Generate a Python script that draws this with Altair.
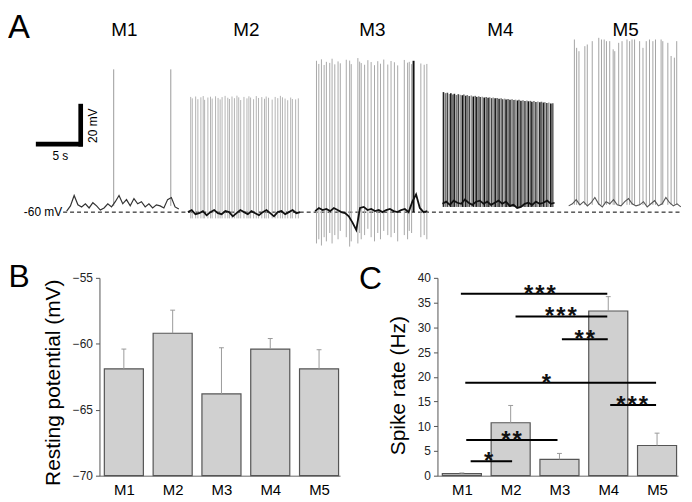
import altair as alt
import pandas as pd

FONT = "Liberation Sans"

# ---------------- Panel A : example traces ----------------
trace_names = ["M1", "M2", "M3", "M4", "M5"]
trace_start_s = [6.28, 19.26, 32.87, 46.49, 60.0]   # start of each 12 s sweep on a common time line
baseline_step_s = 0.4

baseline_mv = {
    "M1": [-59.5, -57, -52, -56.5, -57.5, -56, -58, -55.5, -57, -59, -58, -56, -57.5, -55, -52, -56,
           -54, -57, -53.5, -56, -55, -57.5, -56, -58, -56.5, -57, -58, -54, -53, -57.5, -58.5],
    "M2": [-60, -59, -61, -60.5, -59.5, -61.5, -60, -59, -60.5, -61, -59.5, -60, -62, -60.5, -59, -60,
           -61, -59.5, -60.5, -61.5, -60, -59, -60.5, -62, -60, -59.5, -61, -60, -59, -60.5, -60],
    "M3": [-59.5, -58, -59, -58.5, -59.5, -58, -59, -60, -60.5, -62, -65, -68.5, -58, -57.5, -59, -58.5,
           -59.5, -59, -60, -59, -58.5, -59.5, -60, -59, -58.5, -60, -55, -51.5, -58, -60, -59.5],
    "M4": [-56, -55, -56.5, -54.5, -55.5, -56, -54, -55.5, -56.5, -55, -54.5, -56, -55, -56.5, -55.5, -54.5,
           -56, -55, -57, -56.5, -58, -57.5, -56, -55.5, -56.5, -55, -56, -55.5, -54.5, -56, -55.5],
    "M5": [-57, -56, -54, -56.5, -55, -57, -55.5, -53, -56, -57.5, -55, -56, -54, -56.5, -57, -55,
           -53.5, -56, -57, -56.5, -55, -57.5, -56, -54.5, -57, -56, -53, -55.5, -57, -56, -57.5],
}

spike_times = {
    "M1": [5.03, 11.14],
    "M2": [0.29, 0.46, 0.82, 1.06, 1.38, 1.63, 1.78, 2.13, 2.41, 2.59,
           2.95, 3.22, 3.44, 3.65, 3.97, 4.26, 4.44, 4.71, 4.97, 5.24,
           5.43, 5.64, 5.99, 6.31, 6.52, 6.70, 7.02, 7.31, 7.55, 7.90,
           8.19, 8.37, 8.62, 9.01, 9.33, 9.61, 9.89, 10.11, 10.39, 10.67,
           10.99, 11.17, 11.52, 11.81],
    "M3": [0.14, 0.39, 0.67, 0.96, 1.20, 1.56, 1.81, 2.10, 2.45, 2.69,
           3.33, 3.69, 3.86, 4.57, 4.76, 4.93, 5.29, 5.64, 5.99, 6.35,
           6.70, 6.99, 7.34, 7.77, 8.12, 8.48, 8.83, 9.54, 9.89, 10.07,
           10.32, 10.53, 11.31, 11.67, 11.95],
    "M4": [0.11, 0.32, 0.53, 0.74, 0.90, 1.12, 1.28, 1.49, 1.70, 1.91,
           2.13, 2.29, 2.50, 2.66, 2.87, 3.09, 3.30, 3.51, 3.67, 3.88,
           4.04, 4.26, 4.47, 4.68, 4.89, 5.05, 5.27, 5.43, 5.64, 5.85,
           6.06, 6.28, 6.44, 6.65, 6.81, 7.02, 7.23, 7.45, 7.66, 7.82,
           8.03, 8.19, 8.40, 8.62, 8.83, 9.04, 9.20, 9.41, 9.57, 9.79,
           10.00, 10.21, 10.43, 10.59, 10.80, 10.96, 11.17, 11.38, 11.60, 11.81],
    "M5": [0.61, 0.85, 1.10, 1.73, 1.99, 2.52, 3.22, 3.51, 3.80, 4.04,
           4.39, 4.76, 4.93, 5.35, 5.71, 6.24, 6.52, 6.78, 7.05, 7.59,
           7.95, 8.30, 8.65, 9.01, 9.29, 9.89, 10.07, 10.61, 10.96, 11.31,
           11.56],
}

spike_peaks = {
    "M1": [8.4, 8.4],
    "M2": [-4.8, -5.5, -4.6, -5.9, -5.0, -4.4, -6.2, -5.1, -4.7, -5.6,
           -4.5, -5.3, -6.0, -4.9, -4.3, -5.2, -5.8, -4.6, -5.4, -4.2,
           -5.0, -6.3, -4.8, -5.5, -4.5, -5.1, -5.9, -4.4, -5.3, -4.9,
           -5.7, -4.6, -5.2, -6.1, -4.8, -5.4, -4.3, -5.0, -5.6, -6.4,
           -5.1, -5.8, -6.0, -5.5],
    "M3": [12.5, 11.0, 13.2, 10.5, 12.0, 11.5, 13.5, 10.8, 12.2, 11.3,
           13.0, 12.6, 10.9, 13.8, 12.1, 11.4, 10.6, 12.8, 11.9, 10.4,
           12.3, 11.1, 13.1, 10.7, 12.4, 11.8, 10.3, 12.9, 11.6, 12.0,
           10.9, 12.5, 11.2, 10.6, 11.0],
    "M4": [-2.5, -3.0, -2.8, -3.4, -3.1, -3.6, -3.3, -3.9, -3.5, -3.8,
           -4.0, -3.7, -4.2, -3.9, -4.4, -4.1, -4.6, -4.3, -4.8, -4.5,
           -4.9, -4.7, -5.1, -4.8, -5.2, -5.0, -5.4, -5.1, -5.5, -5.3,
           -5.7, -5.4, -5.9, -5.6, -6.0, -5.8, -6.2, -5.9, -6.3, -6.1,
           -6.5, -6.2, -6.6, -6.4, -6.8, -6.5, -6.9, -6.7, -7.1, -6.8,
           -7.2, -7.0, -7.4, -7.1, -7.5, -7.3, -7.7, -7.5, -7.9, -7.8],
    "M5": [22.7, 18.7, 17.1, 19.5, 20.3, 21.9, 23.5, 22.7, 22.7, 21.9,
           21.9, 18.0, 17.1, 21.1, 21.9, 22.7, 21.9, 22.7, 22.7, 21.9,
           18.7, 21.9, 22.7, 21.9, 22.7, 22.7, 21.9, 21.1, 14.8, 14.0,
           21.9],
}

spike_trough_mv = {"M1": -57.0, "M2": -63.0, "M4": -57.5, "M5": -56.5}
m3_troughs = [-75, -73, -76, -72, -74, -70, -75, -71, -73, -69,
              -72, -76.5, -74, -75, -70, -73, -71, -68, -72, -74,
              -70, -73, -69, -71, -72, -70, -74, -71, -73, -69,
              -70, -60, -72, -71, -73]

# ---------------- Panel B / C : group statistics ----------------
groups = ["M1", "M2", "M3", "M4", "M5"]
resting_mean = [-61.9, -59.2, -63.8, -60.4, -61.9]
resting_sem = [1.5, 1.75, 3.5, 0.8, 1.45]
rate_mean = [0.4, 10.7, 3.3, 33.3, 6.1]
rate_sem = [0.15, 3.5, 1.2, 2.9, 2.5]

sig_from = [0.98, 2.1, 3.05, 1.07, 4.04, 1.09, 1.18]
sig_to = [3.98, 3.98, 3.99, 4.98, 4.98, 2.96, 2.03]
sig_level = [36.8, 32.2, 27.6, 18.8, 14.3, 7.2, 2.9]
HS = "\u200a"
sig_label = [HS.join("***"), HS.join("***"), HS.join("**"), "*", HS.join("***"), HS.join("**"), "*"]
sig_label_pos = [2.6, 3.03, 3.52, 2.73, 4.49, 2.02, 1.55]

# ======================= build tables =======================
spike_colors = {"M1": "#9a9a9a", "M2": "#b3b3b3", "M3": "#a8a8a8", "M5": "#a3a3a3"}
m4_cycle = ["#222222", "#7a7a7a", "#444444", "#9a9a9a", "#111111", "#666666"]
rows = []
for name, start in zip(trace_names, trace_start_s):
    for i, (t, pk) in enumerate(zip(spike_times[name], spike_peaks[name])):
        lo = m3_troughs[i] if name == "M3" else spike_trough_mv[name]
        if name == "M4":
            col, w = m4_cycle[i % len(m4_cycle)], 1.6
        elif name == "M3" and abs(t - 10.53) < 1e-6:
            col, w = "#111111", 2.0
        else:
            col, w = spike_colors[name], 1.0
        rows.append({"trace": name, "t": start + t, "lo": lo, "hi": pk, "col": col, "w": w})
spike_df = pd.DataFrame(rows)

base_color = {"M1": "#333333", "M2": "#111111", "M3": "#111111", "M4": "#111111", "M5": "#555555"}
base_width = {"M1": 1.2, "M2": 1.8, "M3": 1.8, "M4": 1.8, "M5": 1.1}
brow = []
for name, start in zip(trace_names, trace_start_s):
    for i, v in enumerate(baseline_mv[name]):
        brow.append({"trace": name, "t": start + i * baseline_step_s, "v": v,
                     "col": base_color[name], "w": base_width[name]})
base_df = pd.DataFrame(brow)

ax = alt.Scale(domain=[0, 72.34], nice=False, zero=False)
ay = alt.Scale(domain=[-79.1, 37.1], nice=False, zero=False)


def AX(field):
    return alt.X(field, scale=ax, axis=None)


def AY(field):
    return alt.Y(field, scale=ay, axis=None)


dash = alt.Chart(pd.DataFrame({"x0": [5.9], "x1": [72.1], "y": [-60.0]})).mark_rule(
    color="black", strokeWidth=1, strokeDash=[4, 3]
).encode(x=AX("x0:Q"), x2="x1:Q", y=AY("y:Q"))

spikes = alt.Chart(spike_df).mark_rule().encode(
    x=AX("t:Q"), y=AY("lo:Q"), y2="hi:Q",
    color=alt.Color("col:N", scale=None),
    strokeWidth=alt.StrokeWidth("w:Q", scale=None),
)

baseline = alt.Chart(base_df).mark_line(strokeJoin="miter").encode(
    x=AX("t:Q"), y=AY("v:Q"), detail="trace:N",
    color=alt.Color("col:N", scale=None),
    strokeWidth=alt.StrokeWidth("w:Q", scale=None),
)

scalebar = alt.Chart(pd.DataFrame({
    "x0": [2.98, 7.78], "x1": [8.0, 7.78], "y0": [-27.4, -28.6], "y1": [-27.4, -8.1]
})).mark_rule(color="black", strokeWidth=4.7).encode(
    x=AX("x0:Q"), x2="x1:Q", y=AY("y0:Q"), y2="y1:Q",
)

trace_label_t = [12.45, 25.5, 39.0, 52.7, 66.1]
labels = alt.Chart(pd.DataFrame({"t": trace_label_t, "y": [27.3] * 5, "s": trace_names})).mark_text(
    font=FONT, fontSize=19, color="black", baseline="middle"
).encode(x=AX("t:Q"), y=AY("y:Q"), text="s:N")

ann_60 = alt.Chart(pd.DataFrame({"t": [5.8], "y": [-60.0], "s": ["-60 mV"]})).mark_text(
    font=FONT, fontSize=12, align="right", baseline="middle", color="black"
).encode(x=AX("t:Q"), y=AY("y:Q"), text="s:N")
ann_5 = alt.Chart(pd.DataFrame({"t": [5.6], "y": [-32.9], "s": ["5 s"]})).mark_text(
    font=FONT, fontSize=12, align="center", baseline="middle", color="black"
).encode(x=AX("t:Q"), y=AY("y:Q"), text="s:N")
ann_20 = alt.Chart(pd.DataFrame({"t": [9.1], "y": [-18.6], "s": ["20 mV"]})).mark_text(
    font=FONT, fontSize=12, align="center", baseline="middle", angle=270, color="black"
).encode(x=AX("t:Q"), y=AY("y:Q"), text="s:N")

letter_a = alt.Chart(pd.DataFrame({"s": ["A"]})).mark_text(
    font=FONT, fontSize=33, align="left", baseline="top", color="black"
).encode(x=alt.value(0), y=alt.value(3), text="s:N")

panel_a = alt.layer(dash, spikes, baseline, scalebar, labels, ann_60, ann_5, ann_20, letter_a).properties(
    width=680, height=244
)

# ---------------- bar panels ----------------
xs = alt.Scale(domain=[0.5, 5.43], nice=False, zero=False)
xaxis = alt.Axis(values=[1, 2, 3, 4, 5], labelExpr="'M' + datum.value", ticks=False, grid=False,
                 labelFontSize=15, labelColor="black", labelPadding=7, domainColor="#666",
                 title=None, labelFont=FONT)


def bar_panel(means, sems, floor, ydomain, yvalues, ytitle, title_y, letter, letter_dx, letter_dy, extra=()):
    df = pd.DataFrame({"pos": list(range(1, 6)), "val": means, "sem": sems})
    df["x0"] = df["pos"] - 0.4
    df["x1"] = df["pos"] + 0.4
    df["c0"] = df["pos"] - 0.05
    df["c1"] = df["pos"] + 0.05
    df["top"] = df["val"] + df["sem"]
    df["floor"] = floor
    ys = alt.Scale(domain=ydomain, nice=False, zero=False)
    yaxis = alt.Axis(values=yvalues, title=ytitle, grid=False, tickSize=4, tickColor="#555",
                     domainColor="#555", labelFontSize=12, labelColor="#222", labelPadding=3,
                     titleFontSize=21, titleFontWeight="normal", titleColor="black",
                     titlePadding=9, titleY=title_y, labelFont=FONT, titleFont=FONT)

    def X(f):
        return alt.X(f, scale=xs, axis=xaxis)

    def Y(f):
        return alt.Y(f, scale=ys, axis=yaxis)

    bars = alt.Chart(df).mark_bar(fill="#d0d0d0", stroke="#555555", strokeWidth=1.2).encode(
        x=X("x0:Q"), x2="x1:Q", y=Y("val:Q"), y2="floor:Q",
    )
    err = alt.Chart(df).mark_rule(color="#9a9a9a", strokeWidth=1).encode(
        x=X("pos:Q"), y=Y("val:Q"), y2="top:Q"
    )
    caps = alt.Chart(df).mark_rule(color="#9a9a9a", strokeWidth=1).encode(
        x=X("c0:Q"), x2="c1:Q", y=Y("top:Q")
    )
    layers = [bars, err, caps]
    for src, kind in extra:
        if kind == "lines":
            layers.append(alt.Chart(src).mark_rule(color="black", strokeWidth=2).encode(
                x=X("x0:Q"), x2="x1:Q", y=Y("y:Q")))
        else:
            layers.append(alt.Chart(src).mark_text(
                font=FONT, fontSize=24, fontWeight="bold", align="center", baseline="alphabetic",
                dy=8, color="#111").encode(x=X("lx:Q"), y=Y("y:Q"), text="s:N"))
    let = alt.Chart(pd.DataFrame({"s": [letter]})).mark_text(
        font=FONT, fontSize=32, align="left", baseline="top", color="black"
    ).encode(x=alt.value(letter_dx), y=alt.value(letter_dy), text="s:N")
    layers.append(let)
    return alt.layer(*layers).properties(width=242, height=199)


panel_b = bar_panel(resting_mean, resting_sem, -70, [-70, -55], [-70, -65, -60, -55],
                    "Resting potential (mV)", 105, "B", -91.5, -15.4)

sig_df = pd.DataFrame({"x0": sig_from, "x1": sig_to, "y": sig_level, "s": sig_label, "lx": sig_label_pos})
panel_c = bar_panel(rate_mean, rate_sem, 0, [0, 40], list(range(0, 41, 5)),
                    "Spike rate (Hz)", 108, "C", -79, -13.4,
                    extra=[(sig_df, "lines"), (sig_df, "text")])


def spacer(w):
    return alt.Chart(pd.DataFrame({"s": [""]})).mark_text(opacity=0).encode(
        x=alt.value(w / 2), y=alt.value(50), text="s:N"
    ).properties(width=w, height=199)


bottom = alt.hconcat(spacer(91.3), panel_b, spacer(98), panel_c, spacing=0, bounds="flush")
chart = alt.vconcat(panel_a, bottom, spacing=26, bounds="flush").properties(padding=0).configure_view(
    stroke=None
)

chart.save("out.html", embed_options={"renderer": "svg", "actions": False})
